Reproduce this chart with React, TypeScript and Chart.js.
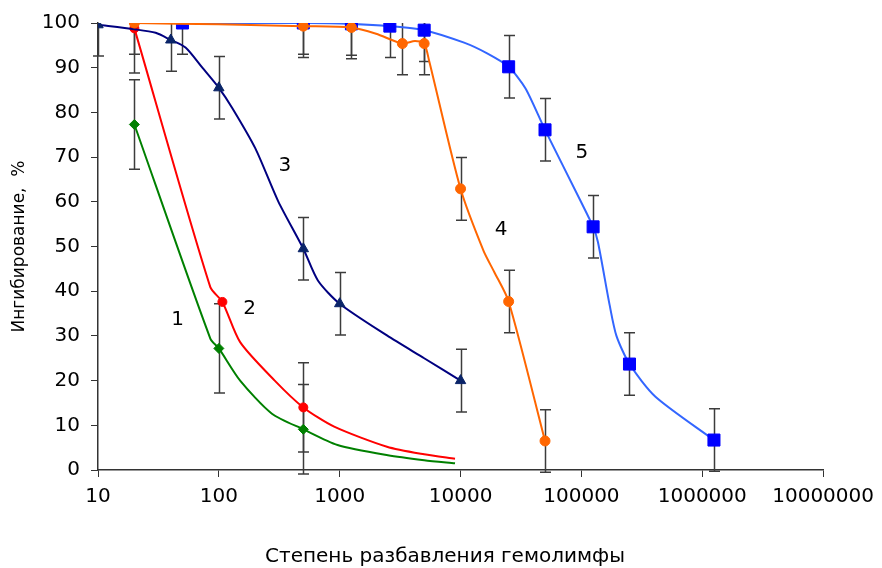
import React, { useEffect, useRef } from 'react';
import { Chart, registerables } from 'chart.js';

Chart.register(...registerables);

const FONT = '"DejaVu Sans", "Liberation Sans", Arial, sans-serif';

// ---- axis ticks / titles ----
const xTickValues = [10, 100, 1000, 10000, 100000, 1000000, 10000000];
const yMin = 0;
const yMax = 100;
const yStep = 10;
const xTitle = 'Степень разбавления гемолимфы';
const yTitle = 'Ингибирование,  %';

// ---- series 1 (green, diamonds) ----
const s1X = [20, 100, 500];
const s1Y = [77.3, 27.2, 9.1];
const s1Err = [10, 10, 10];
const s1CurveX = [20, 85, 100, 150, 275, 500, 960, 2500, 5000, 9000];
const s1CurveY = [77.3, 29.4, 27.2, 20, 12.6, 9.1, 5.6, 3.3, 2.2, 1.5];

// ---- series 2 (red, circles) ----
const s2X = [20, 107, 500];
const s2Y = [98.8, 37.6, 14];
const s2Err = [10, 0, 10];
const s2CurveX = [20, 85, 107, 150, 290, 500, 900, 2460, 5000, 9000];
const s2CurveY = [98.8, 40.9, 37.6, 28.6, 20, 14, 9.7, 5.2, 3.5, 2.5];

// ---- series 3 (navy, triangles) ----
const s3X = [10, 40, 100, 500, 1000, 10000];
const s3Y = [99.6, 96.2, 85.5, 49.5, 37.2, 20];
const s3Err = [7, 7, 7, 7, 7, 7];
const s3CurveX = [10, 20, 30, 40, 53, 73, 100, 129, 200, 310, 500, 660, 1000, 2460, 5000, 10000];
const s3CurveY = [99.6, 98.6, 97.8, 96.2, 94.5, 90, 85.5, 81, 72, 60.1, 49.5, 42.4, 37.2, 30.1, 25, 20];

// ---- series 4 (orange, circles) ----
const s4X = [20, 500, 1250, 3300, 5000, 10000, 25000, 50000];
const s4Y = [100, 99.3, 99, 95.4, 95.4, 62.9, 37.7, 6.5];
const s4Err = [7, 7, 7, 7, 7, 7, 7, 7];
const s4CurveX = [20, 100, 500, 1250, 2000, 3300, 4200, 5000, 5500, 10000, 15500, 19000, 25000, 50000];
const s4CurveY = [100, 99.7, 99.3, 99, 97.6, 95.4, 96, 95.4, 91.5, 62.9, 49, 44.3, 37.7, 6.5];

// ---- series 5 (blue, squares) ----
const s5X = [50, 500, 1250, 2600, 5000, 25000, 50000, 125000, 250000, 1250000];
const s5Y = [100, 100, 99.8, 99.3, 98.4, 90.2, 76.1, 54.4, 23.7, 6.7];
const s5Err = [7, 7, 7, 7, 7, 7, 7, 7, 7, 7];
const s5CurveX = [50, 500, 1250, 2600, 5000, 10700, 16600, 25000, 34400, 50000, 98000, 125000, 137000, 171000, 195000, 250000, 410000, 1250000];
const s5CurveY = [100, 100, 99.8, 99.3, 98.4, 95.6, 93.2, 90.2, 85.4, 76.1, 60.3, 54.4, 51, 37, 30, 23.7, 16.4, 6.7];

// ---- curve number labels ----
const labelText = ['1', '2', '3', '4', '5'];
const labelX = [45.5, 180, 352, 21700, 101000];
const labelY = [33.5, 36, 68, 53.8, 71];

const zip = (xs: number[], ys: number[]) => xs.map((x, i) => ({ x, y: ys[i] }));

const series = [
  { x: s1X, y: s1Y, err: s1Err, cx: s1CurveX, cy: s1CurveY, line: '#008000', mark: '#008000', style: 'rectRot', r: 5, order: 9 },
  { x: s2X, y: s2Y, err: s2Err, cx: s2CurveX, cy: s2CurveY, line: '#FF0000', mark: '#FF0000', style: 'circle', r: 4.5, order: 7 },
  { x: s3X, y: s3Y, err: s3Err, cx: s3CurveX, cy: s3CurveY, line: '#000080', mark: '#0A2468', style: 'triangle', r: 6, order: 5 },
  { x: s4X, y: s4Y, err: s4Err, cx: s4CurveX, cy: s4CurveY, line: '#FF6600', mark: '#FF6600', style: 'circle', r: 5, order: 1 },
  { x: s5X, y: s5Y, err: s5Err, cx: s5CurveX, cy: s5CurveY, line: '#3366FF', mark: '#0000FF', style: 'rect', r: 8.5, order: 3 },
];

const errorBarPlugin = {
  id: 'errorBars',
  beforeDatasetsDraw(chart: any) {
    const { ctx, scales } = chart;
    const xs = scales.x;
    const ys = scales.y;
    ctx.save();
    ctx.strokeStyle = '#3c3c3c';
    ctx.lineWidth = 1.5;
    const cap = 5.5;
    series.forEach((s) => {
      s.x.forEach((xv, i) => {
        const e = s.err[i];
        if (!e) return;
        const px = Math.round(xs.getPixelForValue(xv)) + 0.5;
        const hiV = s.y[i] + e;
        const clipped = hiV > yMax;
        const top = ys.getPixelForValue(Math.min(hiV, yMax));
        const bot = ys.getPixelForValue(s.y[i] - e);
        ctx.beginPath();
        ctx.moveTo(px, top);
        ctx.lineTo(px, bot);
        ctx.moveTo(px - cap, bot);
        ctx.lineTo(px + cap, bot);
        if (!clipped) {
          ctx.moveTo(px - cap, top);
          ctx.lineTo(px + cap, top);
        }
        ctx.stroke();
      });
    });
    ctx.restore();
  },
};

const textPlugin = {
  id: 'texts',
  afterDraw(chart: any) {
    const { ctx, scales, chartArea } = chart;
    ctx.save();
    ctx.fillStyle = '#000';
    ctx.textAlign = 'center';
    ctx.textBaseline = 'middle';
    ctx.font = `20px ${FONT}`;
    labelText.forEach((t, i) => {
      ctx.fillText(t, scales.x.getPixelForValue(labelX[i]), scales.y.getPixelForValue(labelY[i]));
    });
    // x title
    ctx.font = `20px ${FONT}`;
    ctx.fillText(xTitle, 445, 557);
    // y title
    ctx.translate(20, (chartArea.top + chartArea.bottom) / 2);
    ctx.rotate(-Math.PI / 2);
    ctx.font = `17px ${FONT}`;
    ctx.fillText(yTitle, 0, 0);
    ctx.restore();
  },
};

export default function App() {
  const ref = useRef<HTMLCanvasElement>(null);
  useEffect(() => {
    const datasets: any[] = [];
    series.forEach((s) => {
      datasets.push({
        type: 'scatter',
        data: zip(s.x, s.y),
        showLine: false,
        pointStyle: s.style,
        pointRadius: s.r,
        pointBackgroundColor: s.mark,
        pointBorderColor: s.mark,
        pointBorderWidth: 1,
        order: s.order,
      });
      datasets.push({
        type: 'scatter',
        data: zip(s.cx, s.cy),
        showLine: true,
        borderColor: s.line,
        borderWidth: 2,
        tension: 0.25,
        pointRadius: 0,
        fill: false,
        order: s.order + 1,
      });
    });
    const chart = new Chart(ref.current as HTMLCanvasElement, {
      type: 'scatter',
      data: { datasets },
      options: {
        responsive: false,
        animation: false,
        devicePixelRatio: 1,
        layout: { padding: { top: 21, right: 55, left: 0, bottom: 0 } },
        plugins: { legend: { display: false }, tooltip: { enabled: false } },
        scales: {
          x: {
            type: 'logarithmic',
            min: xTickValues[0],
            max: xTickValues[xTickValues.length - 1],
            afterBuildTicks: (s: any) => {
              s.ticks = xTickValues.map((v) => ({ value: v }));
            },
            afterFit: (s: any) => {
              s.height = 98;
            },
            ticks: {
              autoSkip: false,
              maxRotation: 0,
              color: '#000',
              padding: 8,
              font: { family: FONT, size: 20 },
              callback: (v: any) => String(v),
            },
            grid: { drawOnChartArea: false, drawTicks: true, tickLength: 7, color: '#333', lineWidth: 1 },
            border: { display: true, color: '#333', width: 1.5 },
          },
          y: {
            type: 'linear',
            min: yMin,
            max: yMax,
            afterFit: (s: any) => {
              s.width = 98;
            },
            ticks: {
              stepSize: yStep,
              color: '#000',
              padding: 11,
              font: { family: FONT, size: 20 },
            },
            grid: { drawOnChartArea: false, drawTicks: true, tickLength: 7, color: '#333', lineWidth: 1 },
            border: { display: true, color: '#333', width: 1.5 },
          },
        },
      } as any,
      plugins: [errorBarPlugin, textPlugin],
    });
    return () => chart.destroy();
  }, []);
  return (
    <canvas
      ref={ref}
      width={882}
      height={568}
      style={{ position: 'absolute', left: 0, top: 0, width: 882, height: 568 }}
    />
  );
}
